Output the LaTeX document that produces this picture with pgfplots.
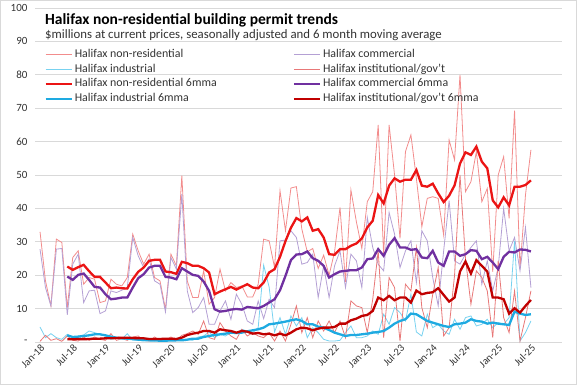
\documentclass[border=0pt]{standalone}
\usepackage{pgfplots}
\pgfplotsset{compat=1.18}
\usepackage{pgfplotstable}
\usepackage{fontspec}
\setmainfont{Carlito}
\definecolor{nrthin}{RGB}{242,140,140}
\definecolor{cmthin}{RGB}{180,160,212}
\definecolor{inthin}{RGB}{120,210,240}
\definecolor{isthin}{RGB}{232,120,120}
\definecolor{nrma}{RGB}{235,20,20}
\definecolor{cmma}{RGB}{112,48,160}
\definecolor{inma}{RGB}{30,170,225}
\definecolor{isma}{RGB}{192,0,0}
\definecolor{gridc}{RGB}{217,217,217}
\definecolor{txt}{RGB}{50,50,50}

\pgfplotstableread{
i nr cm in is
0 33 27.8 4.5 0.2
1 18.3 16.3 1.3 2
2 10.8 10.8 2.5 0.5
3 30.8 27.8 1.3 1
4 29.8 28 0.8 0.2
5 10.3 8.1 2.3 1.8
6 25.3 23.3 1.3 0.5
7 27.3 26.3 1.8 0.3
8 17.3 11.8 2.1 1.5
9 19.3 15.3 3.3 0.5
10 18.8 15.5 2.8 1.5
11 11.8 8.5 2.3 0.8
12 12.3 9.3 1.8 0.5
13 18.8 15.3 0.8 2.5
14 17.3 14.8 1.1 0.5
15 16.8 15.5 0.8 1
16 19.3 16.3 2.5 0.5
17 32.3 31.3 0.5 1.5
18 27.3 25.8 0.5 1.8
19 23.3 22.3 0.3 0.5
20 26.3 24.8 0.6 0.3
21 19.3 18.3 0.4 1.5
22 18.3 17.3 0.8 0.5
23 9.8 9 0.3 0.5
24 26.3 25.3 0.5 1.5
25 22.8 21.8 0.4 0.5
26 49.8 44.3 0.6 2
27 18.3 15.3 0.8 2.5
28 13.3 8.8 0.5 3.3
29 13.3 10.3 1.5 2.3
30 21.3 13.3 1.8 6.3
31 11.3 5.3 3 1.3
32 13.3 5.3 1.3 0.8
33 21.8 9.3 2.3 5.8
34 15.3 12.3 1.8 3.3
35 17.8 6.8 2.8 1.8
36 16.3 14.3 2.5 0.8
37 16.8 11.3 3.8 3.8
38 13.5 6.3 3.3 1.8
39 13.5 5.3 2.8 2.8
40 17.3 12.3 4.3 1.8
41 30.8 7 23 1.3
42 30.3 12.8 16.5 2.8
43 22.3 10.3 3 0.3
44 45.3 30.3 7.3 3.3
45 33.3 30.5 2.3 0.3
46 46.1 33.3 7.8 5.3
47 46.5 31.3 4.8 10.8
48 33.8 23.3 7.3 2.8
49 27 23.8 1.3 7.3
50 28 26.3 4.3 1.3
51 22 13.3 2.8 6.3
52 26 22.8 0.8 3.3
53 20 13.3 0.3 6.3
54 27 22.8 0.3 2.8
55 40.3 27.3 0.5 6.3
56 18 16.3 2.8 1.3
57 45.5 26.3 4.8 12.3
58 36 24.3 1.3 10.8
59 28 16.3 1.3 10.3
60 42 37.3 1.8 2.8
61 45 28.3 3.3 12.8
62 65 23.3 2.3 27.3
63 26 21.3 8.3 1.3
64 65 38.8 5.3 19.3
65 50 32.3 10.3 16.3
66 31 22.3 8.8 0.3
67 57 27.3 6.3 17.3
68 62 30.3 14.3 15.3
69 49 17.8 3 28.3
70 34.5 33.3 1.8 10.3
71 43 30.3 8.3 4.3
72 43.5 19.3 4.3 14.3
73 43 10.8 5.3 22.3
74 32 27.3 3.3 1.8
75 60.5 42.3 2.3 4.3
76 54.5 24.3 6.8 20
77 80 23.3 3.8 50
78 45 26.3 7.3 25
79 48 28.3 7.8 11.3
80 57 30.3 4.8 21.3
81 42 17.3 5.3 19.3
82 46 24.3 6.8 15.3
83 21 15.3 4.3 1.3
84 50 22.3 5.8 24.3
85 55.5 40 5.3 7.3
86 37 27.3 7.3 2.8
87 69.3 31.3 30.3 15.3
88 22 21.3 0.3 0.3
89 44 34.3 2.8 7.3
90 57.5 16.3 6.3 15.3
}\raw

\pgfplotstableread{
i nr cm in is
5 22.6 19.6 2 0.8
6 21.6 18.6 1.5 0.8
7 22.4 20.1 1.6 0.9
8 23.1 20.5 1.8 0.8
9 21.2 18.6 2 0.9
10 19.5 16.5 2.3 1
11 19.5 16.3 2.3 1
12 17.8 14.3 2 1.1
13 16.1 12.8 1.6 1.1
14 16.3 13 1.3 1.2
15 16.1 13.3 1.1 1.3
16 16 13.3 1 1.3
17 18.8 16.3 0.9 1.2
18 21 19.1 0.7 1.1
19 22.3 20.3 0.6 1.1
20 24.3 22.3 0.5 0.9
21 24.6 22.8 0.45 0.9
22 24.6 22.8 0.4 0.9
23 21.1 19.5 0.4 1
24 20.9 19.3 0.45 1
25 20.4 18.8 0.5 0.9
26 24 22.1 0.5 1.3
27 23.6 21.1 0.7 2.1
28 22.8 20.1 1 2.5
29 22.8 19.8 1 2.8
30 22.1 18.1 1.5 3.3
31 20.8 15.3 1.8 3.3
32 14.3 9.8 2.1 2.8
33 15.1 9.1 2.3 3.8
34 15.8 9.3 2.5 3.5
35 16.5 9.7 2.8 3.3
36 15.7 9.9 2.7 2.8
37 16.5 9.7 2.8 3.3
38 17.3 10.5 3.2 3.1
39 16.3 10.3 3.5 2.5
40 16.1 10.1 3.8 2.7
41 17.8 10.8 4.3 2.3
42 20.8 11.8 5.3 2.5
43 21.8 12.8 5.5 2
44 25.5 15.5 5.8 2.5
45 30.2 19.8 6.1 2
46 34.2 24.5 6.5 2.8
47 37.1 26.2 6.8 3.8
48 36.1 26.3 6.3 4.3
49 37.3 27.1 5.3 4.1
50 33.3 25.1 5.3 3.5
51 33.8 24.3 4.6 4
52 31.3 22.8 4.3 4.3
53 26.3 19.3 3.6 4.3
54 26.1 20.3 2.8 4.5
55 27.8 21.1 2.3 5.5
56 27.8 21.3 1.8 5.5
57 28.8 21.5 2.1 6.5
58 29.5 21.5 2.1 7
59 31 22.3 2.3 7.8
60 34.3 24.8 2.5 8.1
61 36.3 25 2.8 9.3
62 44 27.8 3 13.3
63 41.5 25.8 3.3 12.5
64 46.8 29.1 4.3 13.8
65 49 31.1 5.5 12.5
66 48 28.3 6.3 13.3
67 48.6 28.3 6.8 13.3
68 48.6 27.6 8.5 11.8
69 51.5 27.8 8.3 15.4
70 46.8 25.3 7.3 14.3
71 46.5 25.1 6.3 14.7
72 47.4 27.3 5.8 14.9
73 44.5 23.8 5.3 16.1
74 41.9 22.8 4.8 14.1
75 43.8 27.1 4.5 12.1
76 46.9 27.1 5.3 13.3
77 53.4 25.8 5.5 21.1
78 56.8 26.3 5.8 24.1
79 56 27.5 6.8 20.5
80 58.5 27.3 6.3 24.5
81 54 24.8 6.1 22.8
82 52 25.5 5.5 21.1
83 42.4 23.8 5.8 13.3
84 40.3 21.8 5.5 13.3
85 43.3 25.5 5.3 12.8
86 40.9 27 5.1 8.5
87 46.5 26.8 9.1 10.1
88 46.5 27.7 8.5 8.8
89 47 27.6 8.1 10.8
90 48.4 27.1 8.3 12.6
}\ma

\begin{document}
\begin{tikzpicture}
\path[use as bounding box] (0,0) rectangle (577pt,385pt);
\draw[gridc, line width=0.8pt] (0.4pt,0.4pt) rectangle (576.6pt,384.6pt);
\begin{axis}[
  scale only axis,
  width=527pt, height=334pt,
  at={(35pt,43pt)}, anchor=south west,
  xmin=-0.92, xmax=95.7, ymin=0, ymax=100,
  axis line style={draw=none},
  tick style={draw=none},
  ymajorgrids,
  grid style={gridc, line width=0.8pt},
  ytick={0,10,...,100},
  yticklabels={-,10,20,30,40,50,60,70,80,90,100},
  xtick={0,6,...,90},
  xticklabels={Jan-18,Jul-18,Jan-19,Jul-19,Jan-20,Jul-20,Jan-21,Jul-21,Jan-22,Jul-22,Jan-23,Jul-23,Jan-24,Jul-24,Jan-25,Jul-25},
  xticklabel style={rotate=45, anchor=north east, font=\fontsize{10.5}{12}\selectfont, text=txt, inner sep=1pt},
  yticklabel style={font=\fontsize{11}{12}\selectfont, text=txt, xshift=-4pt},
  legend columns=2,
  legend cell align=left,
  legend style={at={(0.012,0.889)}, anchor=north west, draw=none, fill=none,
     font=\fontsize{11.9}{13}\selectfont, text=txt,
     row sep=0.3pt,
     nodes={inner sep=2pt, text height=8pt, text depth=2.5pt},
     /tikz/every even column/.append style={column sep=74pt}},
  legend image code/.code={\draw[#1] (0pt,0pt) -- (26pt,0pt);},
  clip=false,
]
\addplot[nrthin, line width=0.8pt] table[x=i,y=nr] {\raw};
\addlegendentry{Halifax non-residential}
\addplot[cmthin, line width=0.8pt] table[x=i,y=cm] {\raw};
\addlegendentry{Halifax commercial}
\addplot[inthin, line width=0.8pt] table[x=i,y=in] {\raw};
\addlegendentry{Halifax industrial}
\addplot[isthin, line width=0.8pt] table[x=i,y=is] {\raw};
\addlegendentry{Halifax institutional/gov't}
\addplot[nrma, line width=2.3pt] table[x=i,y=nr] {\ma};
\addlegendentry{Halifax non-residential 6mma}
\addplot[cmma, line width=2.3pt] table[x=i,y=cm] {\ma};
\addlegendentry{Halifax commercial 6mma}
\addplot[inma, line width=2.3pt] table[x=i,y=in] {\ma};
\addlegendentry{Halifax industrial 6mma}
\addplot[isma, line width=2.3pt] table[x=i,y=is] {\ma};
\addlegendentry{Halifax institutional/gov't 6mma}
\node[anchor=base west, font=\bfseries\fontsize{15.5}{18}\selectfont, inner sep=0pt] at (rel axis cs:0.019,0.952) {Halifax non-residential building permit trends};
\node[anchor=base west, font=\fontsize{12.8}{14}\selectfont, text=txt, inner sep=0pt] at (rel axis cs:0.019,0.908) {\$millions at current prices, seasonally adjusted and 6 month moving average};
\end{axis}
\end{tikzpicture}
\end{document}
